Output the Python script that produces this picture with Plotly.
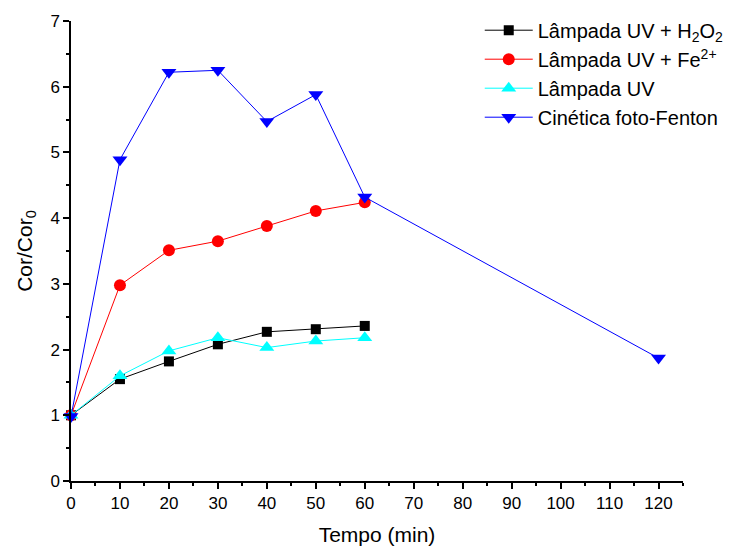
import plotly.graph_objects as go

tempo = [0, 10, 20, 30, 40, 50, 60]
tempo_fenton = [0, 10, 20, 30, 40, 50, 60, 120]

uv_h2o2 = [1.0, 1.55, 1.82, 2.08, 2.27, 2.31, 2.36]
uv_fe = [1.0, 2.98, 3.51, 3.65, 3.88, 4.11, 4.24]
uv = [1.0, 1.60, 1.98, 2.18, 2.03, 2.13, 2.18]
fenton = [0.98, 4.89, 6.22, 6.25, 5.47, 5.88, 4.32, 1.87]

names = ["Lâmpada UV + H<sub>2</sub>O<sub>2</sub>",
         "Lâmpada UV + Fe<sup>2+</sup>",
         "Lâmpada UV",
         "Cinética foto-Fenton"]

fig = go.Figure()
fig.add_trace(go.Scatter(x=tempo, y=uv_h2o2, name=names[0], mode="lines+markers",
                         line=dict(color="black", width=1),
                         marker=dict(symbol="square", size=10, color="black"), cliponaxis=False))
fig.add_trace(go.Scatter(x=tempo, y=uv_fe, name=names[1], mode="lines+markers",
                         line=dict(color="red", width=1),
                         marker=dict(symbol="circle", size=12, color="red"), cliponaxis=False))
fig.add_trace(go.Scatter(x=tempo, y=uv, name=names[2], mode="lines+markers",
                         line=dict(color="cyan", width=1),
                         marker=dict(symbol="triangle-up", size=13, color="cyan"), cliponaxis=False))
fig.add_trace(go.Scatter(x=tempo_fenton, y=fenton, name=names[3], mode="lines+markers",
                         line=dict(color="blue", width=1),
                         marker=dict(symbol="triangle-down", size=13, color="blue"), cliponaxis=False))

font = "Liberation Sans, Arial, sans-serif"
fig.update_layout(
    width=728, height=538,
    margin=dict(l=63, r=53, t=13, b=65, autoexpand=False),
    paper_bgcolor="white", plot_bgcolor="white",
    font=dict(family=font, size=17, color="black"),
    showlegend=True,
    legend=dict(xref="container", yref="container", x=0.648, y=0.995,
                xanchor="left", yanchor="top",
                font=dict(size=20), bgcolor="rgba(0,0,0,0)",
                tracegroupgap=0, itemwidth=48),
    xaxis=dict(range=[0, 125], dtick=10, tick0=0, showgrid=False, zeroline=False,
               showline=True, linecolor="black", linewidth=1.5,
               ticks="outside", ticklen=6, tickwidth=1.5, tickcolor="black",
               automargin=False,
               minor=dict(ticks="outside", dtick=5, ticklen=3, tickwidth=1.5, tickcolor="black"),
               title=dict(text="Tempo (min)", font=dict(size=21), standoff=15)),
    yaxis=dict(range=[0, 7], dtick=1, tick0=0, showgrid=False, zeroline=False,
               showline=True, linecolor="black", linewidth=1.5,
               ticks="outside", ticklen=6, tickwidth=1.5, tickcolor="black",
               automargin=False,
               minor=dict(ticks="outside", dtick=0.5, ticklen=3, tickwidth=1.5, tickcolor="black"),
               title=dict(text="Cor/Cor<sub>0</sub>", font=dict(size=21), standoff=12)),
)

fig.write_html("out.html")
